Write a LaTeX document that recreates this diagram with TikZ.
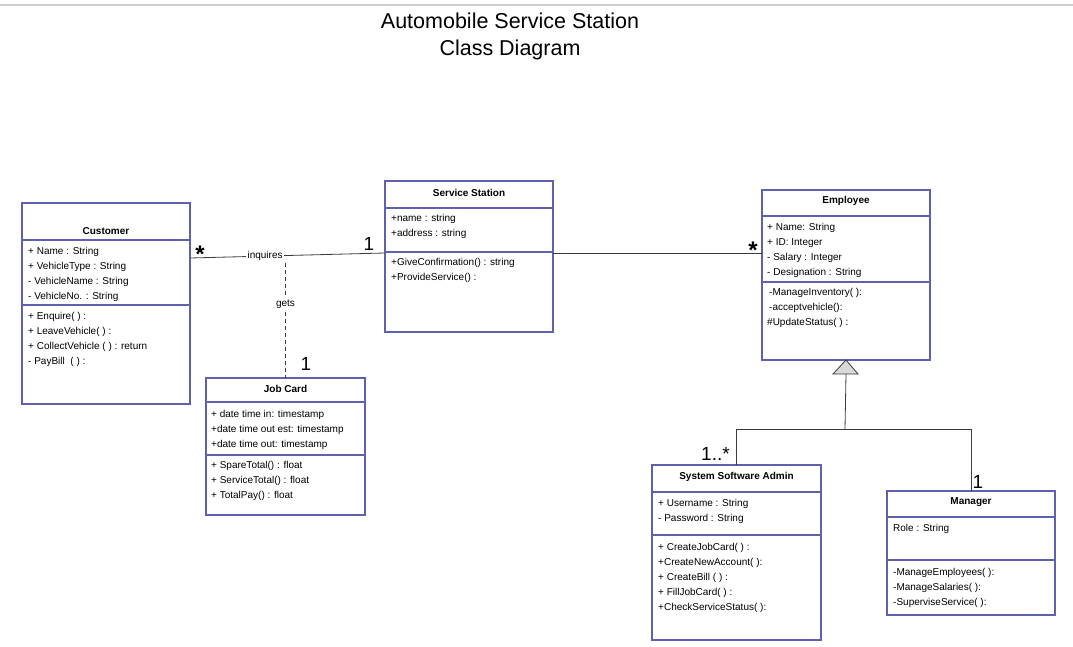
\documentclass[tikz,border=0pt]{standalone}
\usepackage{fontspec}
\setmainfont{Liberation Sans}
\definecolor{classblue}{RGB}{96,96,176}
\definecolor{linegray}{RGB}{60,60,60}
\tikzset{
  classbox/.style={draw=classblue, line width=1.1pt, fill=white, anchor=north west,
    outer sep=0pt, inner sep=0pt},
  classsep/.style={draw=classblue, line width=1.1pt},
  classname/.style={font=\fontsize{10}{11}\selectfont\bfseries, inner sep=0pt, yshift=-1pt},
  member/.style={anchor=west, font=\fontsize{10}{11}\selectfont, inner sep=0pt,
    text height=7.5pt, text depth=2pt, yshift=-1.5pt},
  mult/.style={font=\fontsize{19}{20}\selectfont, inner sep=0pt, anchor=base},
  starmult/.style={font=\fontsize{24}{24}\selectfont\bfseries, inner sep=0pt},
  assoc/.style={draw=linegray, line width=0.8pt},
  rolelabel/.style={font=\fontsize{10}{11}\selectfont, fill=white, inner sep=1.5pt}
}
\begin{document}
\begin{tikzpicture}[x=1pt,y=-1pt]
  \useasboundingbox (0,0) rectangle (1073,647);
  \draw[gray!40, line width=1.5pt] (0,5) -- (1073,5);
  \node[font=\fontsize{21.5}{27}\selectfont, align=center] (title) at (510,36)
    {Automobile Service Station\\Class Diagram};

  % Customer
  \node[classbox, minimum width=168, minimum height=201] (customer) at (22,203) {};
  \draw[classsep] (22,240) -- (190,240);
  \draw[classsep] (22,305) -- (190,305);
  \node[classname] (customer-name) at (106,230) {Customer};
  \node[member] (customer-a1) at (28,250) {+ Name : String};
  \node[member] (customer-a2) at (28,265) {+ VehicleType : String};
  \node[member] (customer-a3) at (28,280) {- VehicleName : String};
  \node[member] (customer-a4) at (28,295) {- VehicleNo. : String};
  \node[member] (customer-m1) at (28,315) {+ Enquire( ) :};
  \node[member] (customer-m2) at (28,330) {+ LeaveVehicle( ) :};
  \node[member] (customer-m3) at (28,345) {+ CollectVehicle ( ) : return};
  \node[member] (customer-m4) at (28,360) {- PayBill~~( ) :};

  % Service Station
  \node[classbox, minimum width=168, minimum height=151] (station) at (385,181) {};
  \draw[classsep] (385,208) -- (553,208);
  \draw[classsep] (385,252) -- (553,252);
  \node[classname] (station-name) at (469,192) {Service Station};
  \node[member] (station-a1) at (391,217) {+name : string};
  \node[member] (station-a2) at (391,232) {+address : string};
  \node[member] (station-m1) at (391,261) {+GiveConfirmation() : string};
  \node[member] (station-m2) at (391,276) {+ProvideService() :};

  % Job Card
  \node[classbox, minimum width=159, minimum height=137] (jobcard) at (206,378) {};
  \draw[classsep] (206,402) -- (365,402);
  \draw[classsep] (206,455) -- (365,455);
  \node[classname] (jobcard-name) at (285.5,388) {Job Card};
  \node[member] (jobcard-a1) at (211,413) {+ date time in: timestamp};
  \node[member] (jobcard-a2) at (211,428) {+date time out est: timestamp};
  \node[member] (jobcard-a3) at (211,443) {+date time out: timestamp};
  \node[member] (jobcard-m1) at (211,464) {+ SpareTotal() : float};
  \node[member] (jobcard-m2) at (211,479) {+ ServiceTotal() : float};
  \node[member] (jobcard-m3) at (211,494) {+ TotalPay() : float};

  % Employee
  \node[classbox, minimum width=168, minimum height=170] (employee) at (762,190) {};
  \draw[classsep] (762,216) -- (930,216);
  \draw[classsep] (762,282) -- (930,282);
  \node[classname] (employee-name) at (846,200) {Employee};
  \node[member] (employee-a1) at (767,226) {+ Name: String};
  \node[member] (employee-a2) at (767,241) {+ ID: Integer};
  \node[member] (employee-a3) at (767,256) {- Salary : Integer};
  \node[member] (employee-a4) at (767,271) {- Designation : String};
  \node[member] (employee-m1) at (769,291) {-ManageInventory( ):};
  \node[member] (employee-m2) at (769,306) {-acceptvehicle():};
  \node[member] (employee-m3) at (767,321) {\#UpdateStatus( ) :};

  % System Software Admin
  \node[classbox, minimum width=169, minimum height=175] (admin) at (652,465) {};
  \draw[classsep] (652,492) -- (821,492);
  \draw[classsep] (652,535) -- (821,535);
  \node[classname] (admin-name) at (736.5,476) {System Software Admin};
  \node[member] (admin-a1) at (658,502) {+ Username : String};
  \node[member] (admin-a2) at (658,517) {- Password : String};
  \node[member] (admin-m1) at (658,546) {+ CreateJobCard( ) :};
  \node[member] (admin-m2) at (658,561) {+CreateNewAccount( ):};
  \node[member] (admin-m3) at (658,576) {+ CreateBill ( ) :};
  \node[member] (admin-m4) at (658,591) {+ FillJobCard( ) :};
  \node[member] (admin-m5) at (658,606) {+CheckServiceStatus( ):};

  % Manager
  \node[classbox, minimum width=168, minimum height=124] (manager) at (887,491) {};
  \draw[classsep] (887,517) -- (1055,517);
  \draw[classsep] (887,560) -- (1055,560);
  \node[classname] (manager-name) at (971,501) {Manager};
  \node[member] (manager-a1) at (893,527) {Role : String};
  \node[member] (manager-m1) at (893,571) {-ManageEmployees( ):};
  \node[member] (manager-m2) at (893,586) {-ManageSalaries( ):};
  \node[member] (manager-m3) at (893,601) {-SuperviseService( ):};

  % associations
  \draw[assoc] ([yshift=-55pt]customer.north east)
    -- node[rolelabel, pos=.385] (inquires) {inquires} ([yshift=-72pt]station.north west);
  \draw[assoc, dash pattern=on 4pt off 3pt] (jobcard.north |- inquires.south)
    -- node[rolelabel, pos=.36] (gets) {gets} (jobcard.north);
  \draw[assoc] ([yshift=-72pt]station.north east) -- ([yshift=-63pt]employee.north west);
  \node[starmult] (customer-mult) at (200,254) {*};
  \node[mult] (station-mult) at (369,250) {1};
  \node[mult] (jobcard-mult) at (306,370) {1};
  \node[starmult] (employee-mult) at (753,250.5) {*};

  % generalization
  \draw[assoc, fill=gray!30] (employee.south) -- ++(12,14) -- ++(-25,0) -- cycle;
  \coordinate (tri) at ([yshift=-14pt]employee.south);
  \coordinate (split) at (845,429);
  \draw[assoc] (tri) -- (split);
  \draw[assoc] (admin.north) -- (admin.north |- split) -- (manager.north |- split)
    -- (manager.north);
  \node[mult, anchor=base west] (admin-mult) at (701,460) {1..*};
  \node[mult] (manager-mult) at (978,488) {1};
\end{tikzpicture}
\end{document}
